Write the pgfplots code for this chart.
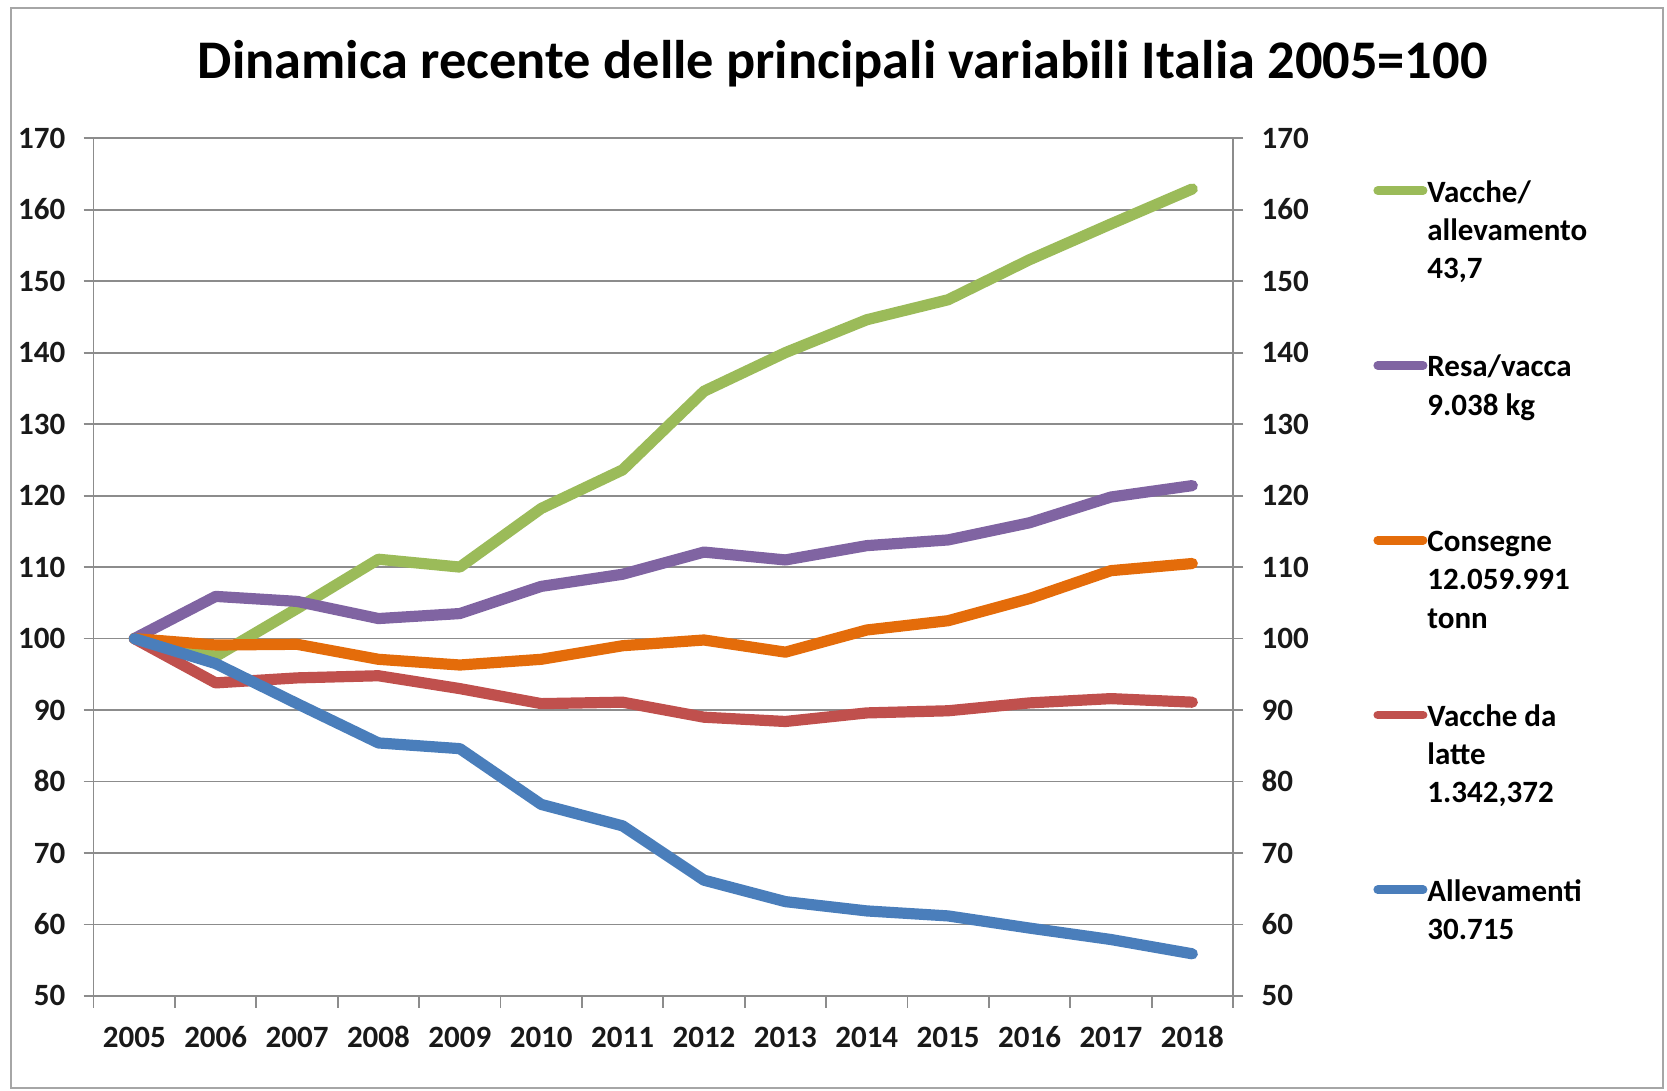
\documentclass[border=0pt]{standalone}
\usepackage{fontspec}
\setmainfont{Carlito}
\usepackage{pgfplots}
\pgfplotsset{compat=1.18}
\usepackage{pgfplotstable}

\definecolor{cgreen}{HTML}{9BBB59}
\definecolor{cpurple}{HTML}{8064A2}
\definecolor{corange}{HTML}{E46C0A}
\definecolor{cred}{HTML}{C0504D}
\definecolor{cblue}{HTML}{4A7EBB}
\definecolor{gridcol}{HTML}{8C8C8C}
\definecolor{framecol}{HTML}{A6A6A6}

\pgfplotstableread{
x green purple orange red blue
0 100 100 100 100 100
1 97.5 105.9 99.1 93.8 96.5
2 104.2 105.2 99.2 94.5 90.9
3 111.1 102.8 97.1 94.8 85.4
4 110.0 103.5 96.3 93.0 84.6
5 118.2 107.3 97.1 90.9 76.8
6 123.6 109.0 99.0 91.1 73.8
7 134.6 112.1 99.8 89.0 66.2
8 140.0 111.0 98.1 88.4 63.2
9 144.6 113.0 101.2 89.6 61.9
10 147.4 113.8 102.5 89.9 61.2
11 153.0 116.2 105.6 91.0 59.5
12 158.0 119.8 109.5 91.6 57.9
13 162.9 121.4 110.5 91.1 55.9
}\data

\newcommand{\lgd}[1]{\parbox[t]{110pt}{\raggedright\rule{0pt}{13pt}#1}}

\begin{document}
\begin{tikzpicture}
\useasboundingbox (0pt,0pt) rectangle (833.5pt,545.5pt);
\draw[framecol, line width=0.8pt] (5.5pt,1.5pt) rectangle (831.5pt,541.5pt);
\node[anchor=base, font=\fontsize{27.2}{32}\selectfont\bfseries] at (421.3pt,506.35pt) {Dinamica recente delle principali variabili Italia 2005=100};

\begin{axis}[
  at={(46.8pt,47.5pt)}, anchor=south west,
  scale only axis, width=569.7pt, height=428.9pt,
  xmin=-0.5, xmax=13.5, ymin=50, ymax=170,
  ytick={50,60,...,170}, ytick pos=left,
  tick align=outside, major tick length=5pt, minor tick length=6pt,
  ymajorgrids, grid style={gridcol, line width=0.9pt},
  xtick={0,...,13},
  xticklabels={2005,2006,2007,2008,2009,2010,2011,2012,2013,2014,2015,2016,2017,2018},
  xtick pos=bottom,
  major x tick style={draw=none},
  minor xtick={-0.5,0.5,...,13.5},
  minor x tick style={gridcol, line width=0.9pt},
  y tick style={gridcol, line width=0.9pt},
  axis line style={gridcol, line width=0.9pt},
  tick label style={font=\fontsize{15.5}{18}\selectfont\bfseries, text=black!90, text height=10pt, text depth=0pt},
  /pgf/number format/assume math mode=true,
  yticklabel style={xshift=-5.6pt},
  xticklabel style={yshift=-7.3pt},
  legend style={draw=none, fill=none, at={(1.1229,0.9563)}, anchor=north west,
    inner sep=0pt, column sep=0pt, row sep=72.9pt, nodes={inner sep=0pt},
    font=\fontsize{15.5}{19.1}\selectfont\bfseries},
  legend cell align=left,
  legend image code/.code={\draw[#1, line width=4.4pt, line cap=round] (2.2pt,0pt) -- (24.8pt,0pt);},
  every axis plot/.append style={line width=5.6pt, line join=round, line cap=round},
]
\addplot[cgreen] table[x=x,y=green]{\data};
\addlegendentry{\lgd{Vacche/\\allevamento\\43,7}}
\addplot[cpurple] table[x=x,y=purple]{\data};
\addlegendentry{\lgd{Resa/vacca\\9.038 kg}}
\addplot[corange] table[x=x,y=orange]{\data};
\addlegendentry{\lgd{Consegne\\12.059.991\\tonn}}
\addplot[cred] table[x=x,y=red]{\data};
\addlegendentry{\lgd{Vacche da\\latte\\1.342,372}}
\addplot[cblue] table[x=x,y=blue]{\data};
\addlegendentry{\lgd{Allevamenti\\30.715}}
\end{axis}

\begin{axis}[
  at={(46.8pt,47.5pt)}, anchor=south west,
  scale only axis, width=569.7pt, height=428.9pt,
  xmin=-0.5, xmax=13.5, ymin=50, ymax=170,
  axis x line=none, axis y line*=right,
  ytick={50,60,...,170},
  tick align=outside, major tick length=5pt,
  y tick style={gridcol, line width=0.9pt},
  axis line style={gridcol, line width=0.9pt},
  tick label style={font=\fontsize{15.5}{18}\selectfont\bfseries, text=black!90, text height=10pt, text depth=0pt},
  /pgf/number format/assume math mode=true,
  yticklabel style={xshift=5.8pt},
]
\end{axis}
\end{tikzpicture}
\end{document}
